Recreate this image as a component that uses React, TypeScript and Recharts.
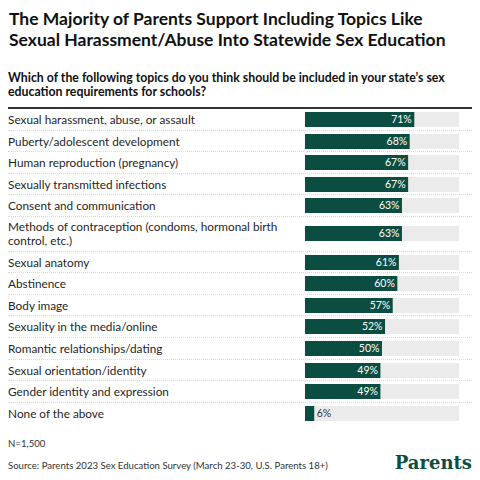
import { BarChart, Bar, XAxis, YAxis, LabelList } from 'recharts';

const topics = [
  "Sexual harassment, abuse, or assault",
  "Puberty/adolescent development",
  "Human reproduction (pregnancy)",
  "Sexually transmitted infections",
  "Consent and communication",
  "Methods of contraception (condoms, hormonal birth control, etc.)",
  "Sexual anatomy",
  "Abstinence",
  "Body image",
  "Sexuality in the media/online",
  "Romantic relationships/dating",
  "Sexual orientation/identity",
  "Gender identity and expression",
  "None of the above",
];

const shares = [71, 68, 67, 67, 63, 63, 61, 60, 57, 52, 50, 49, 49, 6];

const GREEN = '#0c4d41';
const FONT = 'Lato, "Noto Sans", sans-serif';

// break long labels into lines of ~50 characters
function wrapLabel(text: string, maxChars: number) {
  const lines: string[] = [];
  let cur = '';
  text.split(' ').forEach((w) => {
    if (cur && (cur + ' ' + w).length > maxChars) {
      lines.push(cur);
      cur = w;
    } else {
      cur = cur ? cur + ' ' + w : w;
    }
  });
  if (cur) lines.push(cur);
  return lines;
}

function TopicTick(props: any) {
  const { y, payload } = props;
  const lines = wrapLabel(payload.value, 50);
  const lh = 14.2;
  const start = y - ((lines.length - 1) * lh) / 2;
  return (
    <text x={0} y={start} textAnchor="start" fill="#1f1f1f" fontSize={11.8} fontFamily={FONT}>
      {lines.map((l, i) => (
        <tspan key={i} x={0} dy={i === 0 ? '0.36em' : lh}>{l}</tspan>
      ))}
    </text>
  );
}

function ValueLabel(props: any) {
  const { x, y, width, height, value } = props;
  const inside = value >= 10;
  return (
    <text
      x={inside ? x + width - 2.5 : x + width + 2.5}
      y={y + height / 2}
      dy="0.36em"
      textAnchor={inside ? 'end' : 'start'}
      fill={inside ? '#ffffff' : '#333333'}
      fontSize={10.5}
      fontFamily={FONT}
    >
      {value}%
    </text>
  );
}

function TopicRow({ topic, share, last }: { topic: string; share: number; last: boolean }) {
  const multi = wrapLabel(topic, 50).length > 1;
  const h = multi ? 34.7 : 21.6;
  return (
    <div style={{ height: h, boxSizing: 'border-box', borderBottom: last ? 'none' : '1px dotted #d9d9d9' }}>
      <BarChart
        width={464}
        height={last ? h : h - 1}
        layout="vertical"
        data={[{ topic, share }]}
        margin={{ top: 0, right: 13, bottom: 0, left: 0 }}
      >
        <XAxis type="number" domain={[0, 100]} hide />
        <YAxis type="category" dataKey="topic" width={297} axisLine={false} tickLine={false} tick={<TopicTick />} />
        <Bar dataKey="share" fill={GREEN} barSize={15} background={{ fill: '#ebebeb' }} isAnimationActive={false}>
          <LabelList dataKey="share" content={<ValueLabel />} />
        </Bar>
      </BarChart>
    </div>
  );
}

export default function App() {
  return (
    <div style={{ width: 464, height: 464, fontFamily: FONT, color: '#111' }}>
      <div style={{ fontSize: 17.5, fontWeight: 700, lineHeight: '21px', paddingLeft: 1 }}>
        The Majority of Parents Support Including Topics Like Sexual Harassment/Abuse Into Statewide Sex Education
      </div>
      <div style={{ fontSize: 12.3, fontWeight: 700, lineHeight: '13.7px', marginTop: 21.4 }}>
        Which of the following topics do you think should be included in your state’s sex education requirements for schools?
      </div>
      <div style={{ borderTop: '2px solid #333', marginTop: 8.2 }}>
        {topics.map((t, i) => (
          <TopicRow key={t} topic={t} share={shares[i]} last={i === topics.length - 1} />
        ))}
      </div>
      <div style={{ marginTop: 10.8, fontSize: 9.6, color: '#333', lineHeight: '18.7px' }}>
        <div>N=1,500</div>
        <div style={{ display: 'flex', justifyContent: 'space-between', alignItems: 'baseline' }}>
          <span>Source: Parents 2023 Sex Education Survey (March 23-30, U.S. Parents 18+)</span>
          <span
            style={{
              fontFamily: '"DejaVu Serif", serif',
              fontWeight: 700,
              fontSize: 18,
              lineHeight: '18px',
              color: GREEN,
            }}
          >
            Parents
          </span>
        </div>
      </div>
    </div>
  );
}
